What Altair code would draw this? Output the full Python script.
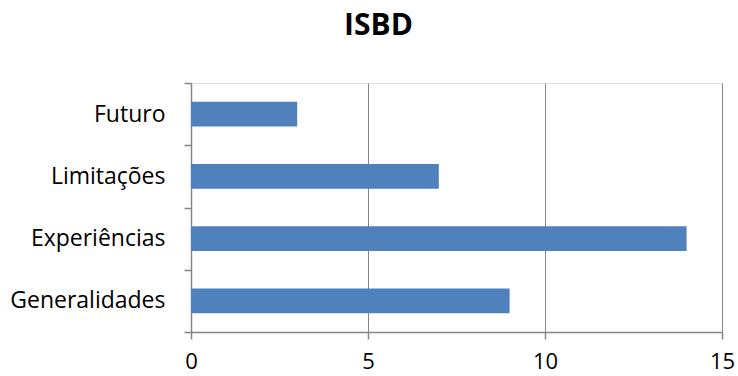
import altair as alt
import pandas as pd

# Number of items per topic
categories = ["Futuro", "Limitações", "Experiências", "Generalidades"]
values = [3, 7, 14, 9]
x_ticks = [0, 5, 10, 15]

df = pd.DataFrame({"categoria": categories, "valor": values})

FONT = "Open Sans"
GRAY = "#868686"

chart = (
    alt.Chart(df)
    .mark_bar(color="#4F81BD", height=alt.RelativeBandSize(0.4))
    .encode(
        x=alt.X(
            "valor:Q",
            scale=alt.Scale(domain=[0, 15], nice=False),
            axis=alt.Axis(
                title=None,
                values=x_ticks,
                grid=True,
                gridColor=GRAY,
                gridWidth=1,
                domainColor=GRAY,
                domainWidth=1.5,
                tickColor=GRAY,
                tickSize=7,
                tickWidth=1.5,
                labelFont=FONT,
                labelFontSize=22,
                labelColor="#000000",
                labelPadding=12,
                labelFlush=False,
            ),
        ),
        y=alt.Y(
            "categoria:N",
            sort=categories,
            scale=alt.Scale(paddingInner=0, paddingOuter=0),
            axis=alt.Axis(
                title=None,
                tickBand="extent",
                domainColor=GRAY,
                domainWidth=1.5,
                tickColor=GRAY,
                tickSize=7,
                tickWidth=1.5,
                labelFont=FONT,
                labelFontSize=23,
                labelColor="#000000",
                labelPadding=19,
            ),
        ),
    )
    .properties(
        width=531,
        height=249,
        padding={"left": 191, "top": 83, "right": 16, "bottom": 44},
        autosize=alt.AutoSizeParams(type="none"),
        title=alt.TitleParams(
            "ISBD",
            font=FONT,
            fontSize=30,
            fontWeight="bold",
            color="#000000",
            anchor="middle",
            dx=-78,
            offset=31,
        ),
    )
    .configure_view(stroke=None)
    .configure(background="white")
)

chart.save("out.html", embed_options={"renderer": "svg", "actions": False})
